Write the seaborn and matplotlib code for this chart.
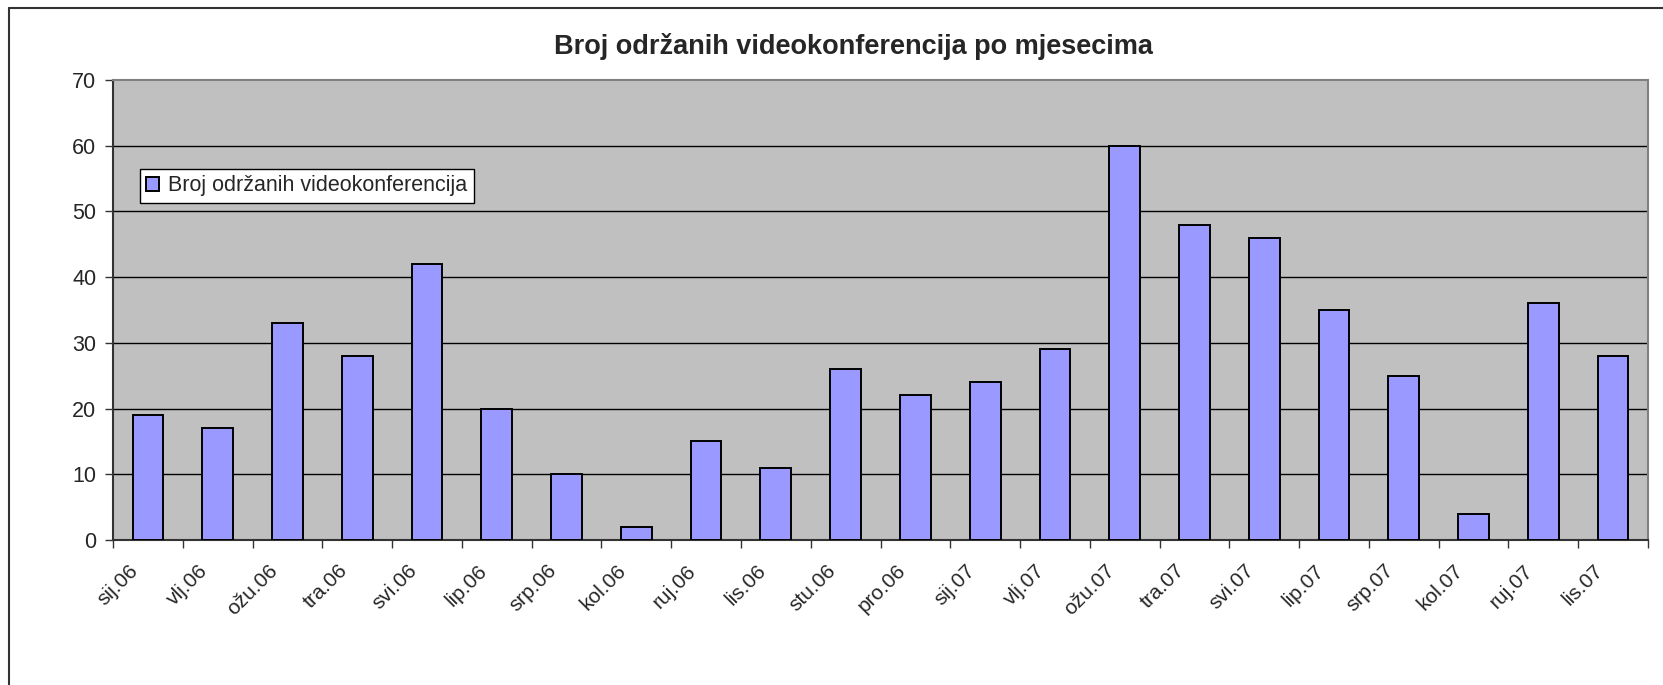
import matplotlib
matplotlib.use("Agg")
import matplotlib.pyplot as plt
import matplotlib.transforms as mtransforms
import seaborn as sns
import pandas as pd
import numpy as np
from matplotlib.lines import Line2D

months = ["sij.06", "vlj.06", "ožu.06", "tra.06", "svi.06", "lip.06", "srp.06", "kol.06",
          "ruj.06", "lis.06", "stu.06", "pro.06", "sij.07", "vlj.07", "ožu.07", "tra.07",
          "svi.07", "lip.07", "srp.07", "kol.07", "ruj.07", "lis.07"]
counts = [19, 17, 33, 28, 42, 20, 10, 2, 15, 11, 26, 22, 24, 29, 60, 48, 46, 35, 25, 4, 36, 28]
series_name = "Broj održanih videokonferencija"
title = "Broj održanih videokonferencija po mjesecima"
yticks = [0, 10, 20, 30, 40, 50, 60, 70]

sns.set_theme(style="white")
plt.rcParams["font.family"] = ["Liberation Sans", "DejaVu Sans"]

df = pd.DataFrame({"month": months, "count": counts, "series": series_name})

fig = plt.figure(figsize=(16.63, 6.85), dpi=100)
ax = fig.add_axes([113/1663, 1 - 540/685, (1648-113)/1663, (540-80)/685])
ax.set_facecolor("#C0C0C0")

sns.barplot(data=df, x="month", y="count", hue="series", palette=["#9999FF"],
            saturation=1, width=0.44, edgecolor="black", linewidth=1.4, ax=ax,
            zorder=3, legend=True)

ax.set_ylim(0, 70)
ax.set_xlim(-0.5, len(months) - 0.5)
ax.set_yticks(yticks)
ax.set_yticklabels([str(v) for v in yticks], fontsize=15.5)
for v in yticks[1:-1]:
    ax.axhline(v, color="black", linewidth=1.0, zorder=1)

ax.set_xticks(range(len(months)))
ax.set_xticklabels(months, rotation=45, ha="right", va="center", rotation_mode="anchor", fontsize=15)
ax.tick_params(axis="x", which="major", length=0, pad=20)
shift = mtransforms.ScaledTranslation(-13/100, 0, fig.dpi_scale_trans)
for lbl in ax.get_xticklabels():
    lbl.set_transform(lbl.get_transform() + shift)
ax.set_xticks(np.arange(-0.5, len(months)), minor=True)
ax.tick_params(axis="x", which="minor", length=6, width=1, color="#333333", direction="out", bottom=True)
ax.tick_params(axis="y", length=6, width=1, color="#333333", direction="out", left=True, pad=6)
ax.set_xlabel("")
ax.set_ylabel("")

for s in ["top", "right"]:
    ax.spines[s].set_color("#808080")
    ax.spines[s].set_linewidth(1.5)
for s in ["left", "bottom"]:
    ax.spines[s].set_color("#333333")
    ax.spines[s].set_linewidth(1.5)

leg = ax.legend(loc="upper left", bbox_to_anchor=((140-113)/1535, (540-169)/460),
                fontsize=15.5, frameon=True, fancybox=False, framealpha=1,
                edgecolor="black", handlelength=0.6, handleheight=0.6,
                handletextpad=0.4, borderpad=0.3, borderaxespad=0)
leg.get_frame().set_linewidth(1.0)

fig.text(853/1663, 1 - 46/685, title, ha="center", va="center", fontsize=19.5, fontweight="bold")

# outer chart-area frame (left and top edges visible)
fig.add_artist(Line2D([9/1663, 9/1663], [0, 1 - 8/685], color="#333333", linewidth=1.5, transform=fig.transFigure))
fig.add_artist(Line2D([9/1663, 1], [1 - 8/685, 1 - 8/685], color="#333333", linewidth=1.5, transform=fig.transFigure))

fig.savefig("out.png", dpi=100, facecolor="white")
